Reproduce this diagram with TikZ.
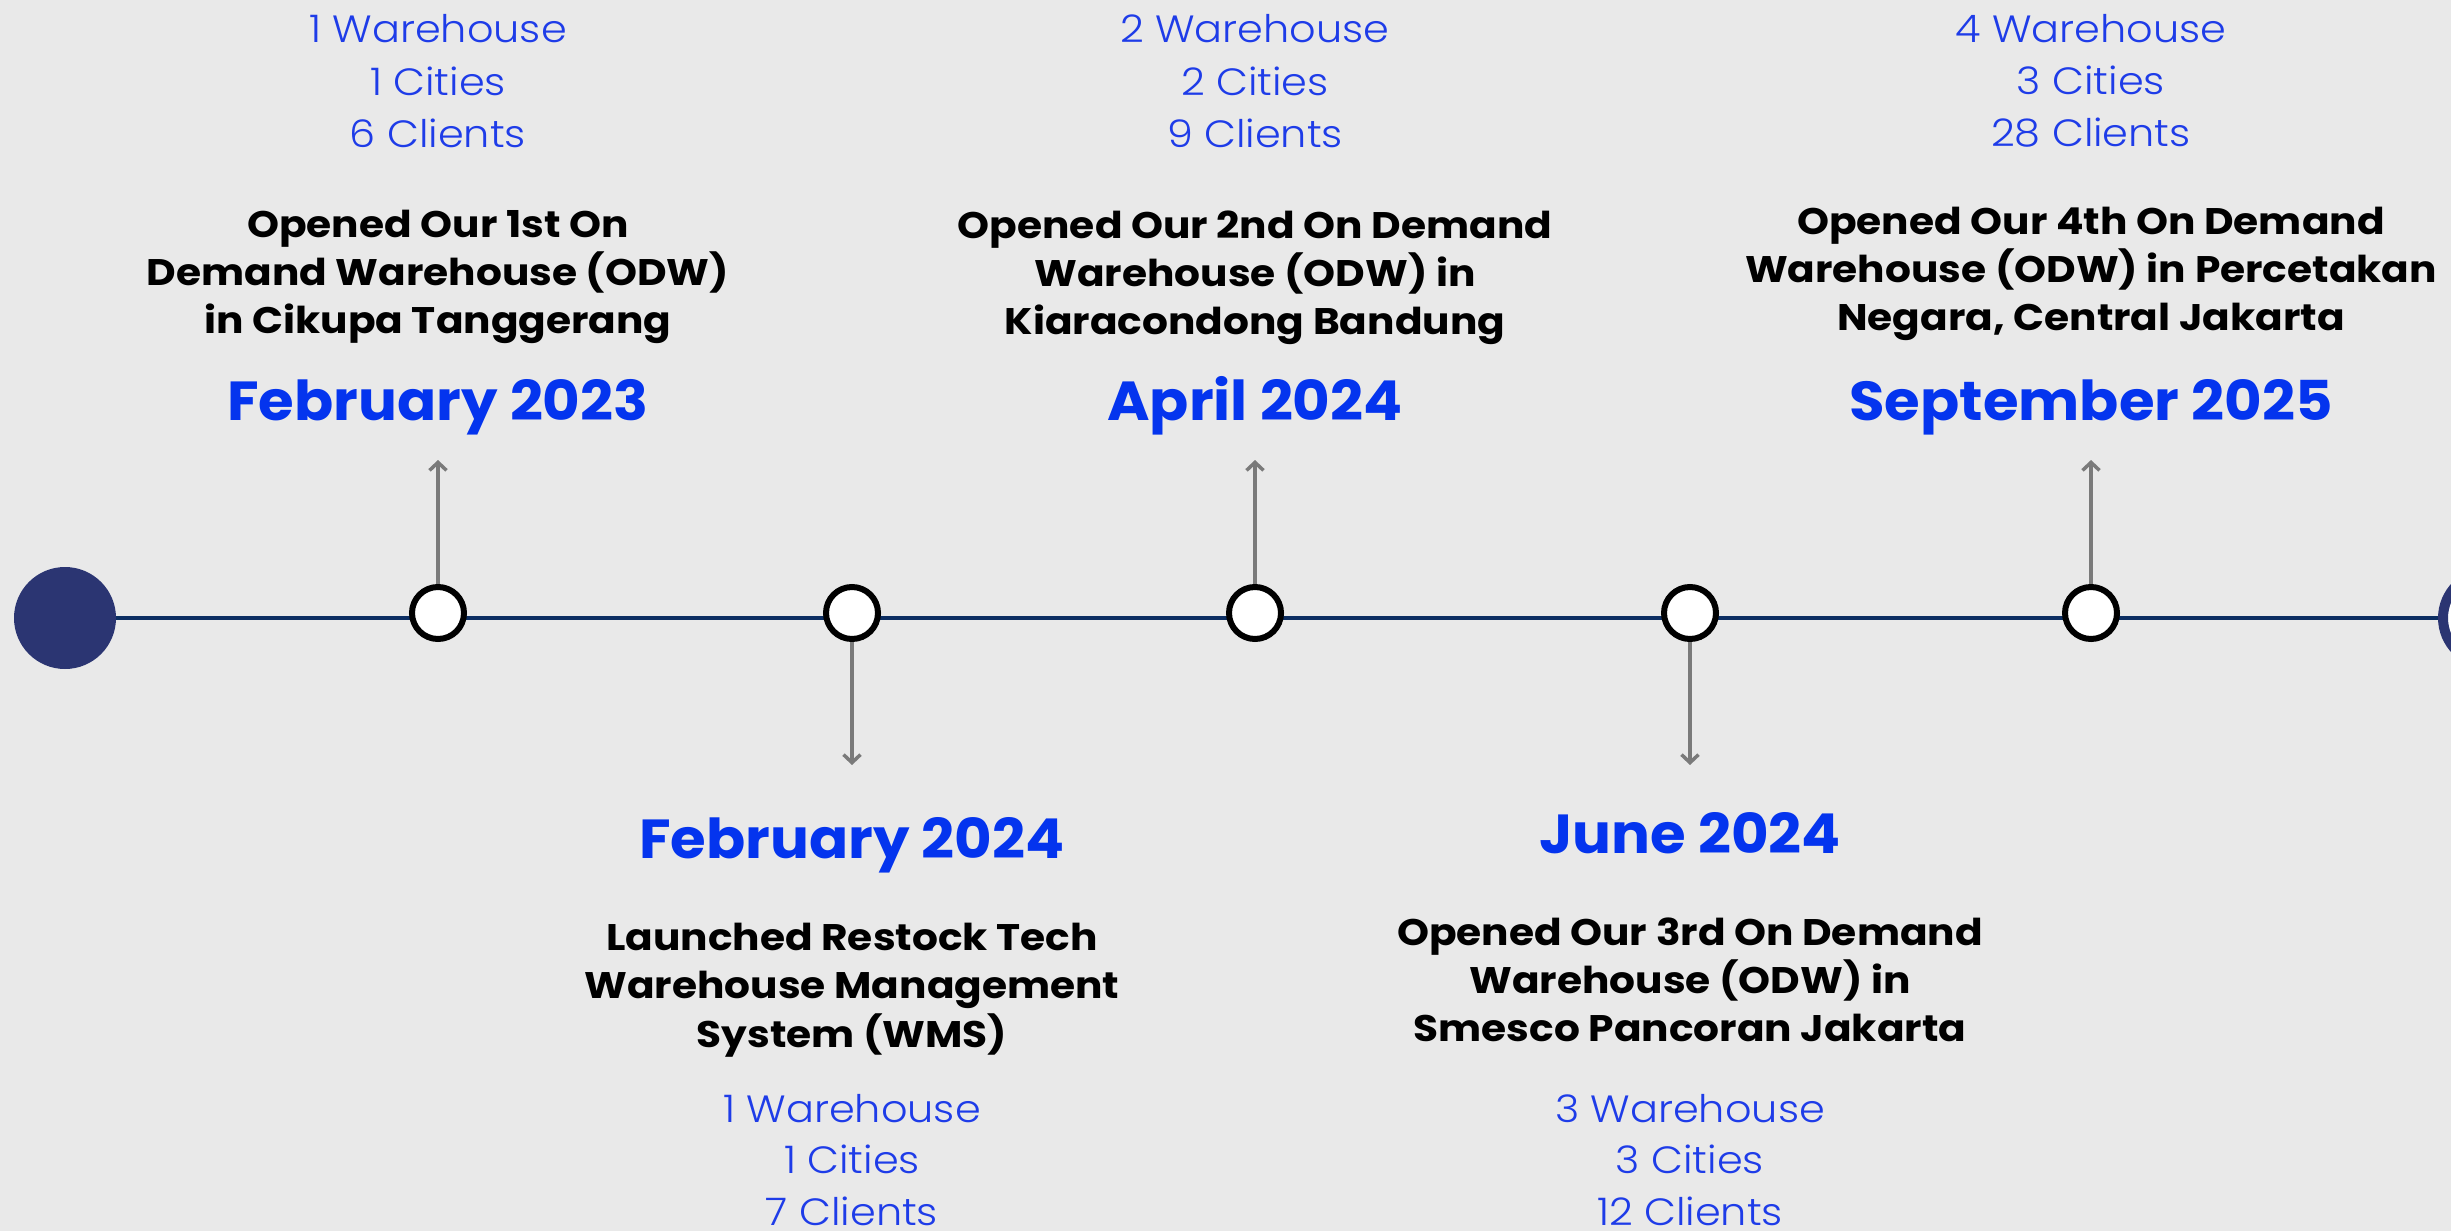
\documentclass[tikz,border=0pt]{standalone}
\usepackage{fontspec}
\setmainfont{Poppins}
\newfontfamily\statsfont{Poppins Light}[FakeStretch=1.09]
\newfontfamily\descfont{Poppins Bold}[FakeStretch=1.1]
\newfontfamily\datefont{Poppins Bold}[FakeStretch=1.05]
\usetikzlibrary{arrows.meta,backgrounds}
\definecolor{bgc}{RGB}{233,233,233}
\definecolor{statblue}{RGB}{30,60,232}
\definecolor{dateblue}{RGB}{4,52,238}
\definecolor{navyline}{RGB}{12,46,98}
\definecolor{navydot}{RGB}{43,53,114}
\definecolor{arrgray}{RGB}{122,122,122}
\newcommand{\tlblock}[6]{%
  \foreach \ln [count=\k] in {#6} {\node[#5] (#1-\k) at (#2, {#3+(\k-1)*#4}) {\ln};}}
\begin{document}
\begin{tikzpicture}[x=1pt,y=-1pt,
  statline/.style={anchor=base, inner sep=0, text=statblue, font=\statsfont\fontsize{38}{44}\selectfont},
  descline/.style={anchor=base, inner sep=0, text=black, font=\descfont\fontsize{37}{44}\selectfont},
  dateline/.style={anchor=base, inner sep=0, text=dateblue, font=\datefont\fontsize{55}{60}\selectfont},
  dotc/.style={circle, draw=black, fill=white, line width=6pt, minimum size=52pt, inner sep=0},
  arr/.style={draw=arrgray, line width=3.5pt, -{Straight Barb[length=8pt,width=17pt]}},
  mainline/.style={draw=navyline, line width=4pt}]
\useasboundingbox (0,0) rectangle (2451,1231);
\clip (0,0) rectangle (2451,1231);
% milestones
\node[circle, fill=navydot, minimum size=102pt, inner sep=0] (start) at (65,618) {};
\node[circle, draw=navydot, fill=white, line width=10pt, minimum size=92pt, inner sep=0] (finish) at (2489,618) {};
\node[dotc] (c1) at (438,613) {};
\node[dotc] (c2) at (852,613) {};
\node[dotc] (c3) at (1255,613) {};
\node[dotc] (c4) at (1690,613) {};
\node[dotc] (c5) at (2091,613) {};
\begin{scope}[on background layer]
  \fill[bgc] (0,0) rectangle (2451,1231);
  \draw[mainline] (start) -- (finish);
\end{scope}
% arrows
\coordinate (a1) at (438,460);
\coordinate (a2) at (852,765);
\coordinate (a3) at (1255,460);
\coordinate (a4) at (1690,765);
\coordinate (a5) at (2091,460);
\draw[arr] (c1.north) -- (a1);
\draw[arr] (c2.south) -- (a2);
\draw[arr] (c3.north) -- (a3);
\draw[arr] (c4.south) -- (a4);
\draw[arr] (c5.north) -- (a5);
% group 1
\tlblock{s1}{438}{43}{52}{statline}{1 Warehouse,1 Cities,6 Clients}
\tlblock{d1}{438}{237}{48}{descline}{Opened Our 1st On,Demand Warehouse (ODW),in Cikupa Tanggerang}
\node[dateline] (t1) at (438,420) {February 2023};
% group 2
\node[dateline] (t2) at (852,858) {February 2024};
\tlblock{d2}{852}{950}{48.5}{descline}{Launched Restock Tech,Warehouse Management,System (WMS)}
\tlblock{s2}{852}{1122}{51.5}{statline}{1 Warehouse,1 Cities,7 Clients}
% group 3
\tlblock{s3}{1255}{43}{52}{statline}{2 Warehouse,2 Cities,9 Clients}
\tlblock{d3}{1255}{238}{48}{descline}{Opened Our 2nd On Demand,Warehouse (ODW) in,Kiaracondong Bandung}
\node[dateline] (t3) at (1255,420) {April 2024};
% group 4
\node[dateline] (t4) at (1690,853) {June 2024};
\tlblock{d4}{1690}{945}{48}{descline}{Opened Our 3rd On Demand,Warehouse (ODW) in,Smesco Pancoran Jakarta}
\tlblock{s4}{1690}{1122}{51.5}{statline}{3 Warehouse,3 Cities,12 Clients}
% group 5
\tlblock{s5}{2091}{43}{51.5}{statline}{4 Warehouse,3 Cities,28 Clients}
\tlblock{d5}{2091}{234}{48}{descline}{Opened Our 4th On Demand,Warehouse (ODW) in Percetakan,{Negara, Central Jakarta}}
\node[dateline] (t5) at (2091,420) {September 2025};
\end{tikzpicture}
\end{document}
